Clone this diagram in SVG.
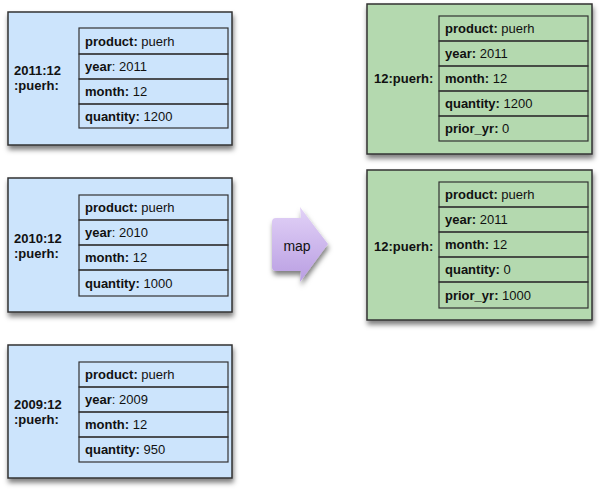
<svg xmlns="http://www.w3.org/2000/svg" width="600" height="491" viewBox="0 0 600 491">
<defs>
<filter id="sh" x="-10%" y="-10%" width="125%" height="130%">
<feDropShadow dx="1" dy="4" stdDeviation="2.5" flood-color="#000" flood-opacity="0.5"/>
</filter>
<linearGradient id="mapg" x1="0" y1="0" x2="0" y2="1">
<stop offset="0" stop-color="#e2d2f7"/>
<stop offset="1" stop-color="#b99ee2"/>
</linearGradient>
<style>
.blue{fill:#cce4fc;stroke:#333;stroke-width:1.5}
.green{fill:#b4d9af;stroke:#333;stroke-width:1.5}
.cell{fill:none;stroke:#333;stroke-width:1.2}
text{font-family:"Liberation Sans",Arial,sans-serif;font-size:13px;fill:#111}
.b{font-weight:bold}
.lbl{font-weight:bold}
</style>
</defs>

<g id="src-2011">
<rect class="blue" x="8" y="12" width="224" height="133" filter="url(#sh)"/>
<text class="lbl" x="14" y="75">2011:12</text>
<text class="lbl" x="14" y="89.5">:puerh:</text>
<rect class="cell" x="79" y="28" width="149" height="26"/>
<rect class="cell" x="79" y="54" width="149" height="25"/>
<rect class="cell" x="79" y="79" width="149" height="25"/>
<rect class="cell" x="79" y="104" width="149" height="24"/>
<text x="85" y="45.5"><tspan class="b">product:</tspan> puerh</text>
<text x="85" y="71"><tspan class="b">year</tspan>: 2011</text>
<text x="85" y="96"><tspan class="b">month:</tspan> 12</text>
<text x="85" y="121"><tspan class="b">quantity:</tspan> 1200</text>
</g>

<g id="src-2010">
<rect class="blue" x="8" y="178" width="224" height="134" filter="url(#sh)"/>
<text class="lbl" x="14" y="243">2010:12</text>
<text class="lbl" x="14" y="257.5">:puerh:</text>
<rect class="cell" x="79" y="195" width="149" height="25"/>
<rect class="cell" x="79" y="220" width="149" height="25"/>
<rect class="cell" x="79" y="245" width="149" height="25"/>
<rect class="cell" x="79" y="270" width="149" height="26"/>
<text x="85" y="212"><tspan class="b">product:</tspan> puerh</text>
<text x="85" y="237"><tspan class="b">year</tspan>: 2010</text>
<text x="85" y="262"><tspan class="b">month:</tspan> 12</text>
<text x="85" y="287.5"><tspan class="b">quantity:</tspan> 1000</text>
</g>

<g id="src-2009">
<rect class="blue" x="8" y="345" width="224" height="133" filter="url(#sh)"/>
<text class="lbl" x="14" y="409">2009:12</text>
<text class="lbl" x="14" y="423.5">:puerh:</text>
<rect class="cell" x="79" y="362" width="149" height="25"/>
<rect class="cell" x="79" y="387" width="149" height="25"/>
<rect class="cell" x="79" y="412" width="149" height="25"/>
<rect class="cell" x="79" y="437" width="149" height="25"/>
<text x="85" y="379"><tspan class="b">product:</tspan> puerh</text>
<text x="85" y="404"><tspan class="b">year</tspan>: 2009</text>
<text x="85" y="429"><tspan class="b">month:</tspan> 12</text>
<text x="85" y="454"><tspan class="b">quantity:</tspan> 950</text>
</g>

<g id="map">
<path d="M276 218 L301 218 L300 207 Q314 226 328 244 Q314 263 300 282 L301 271 L276 271 Q272 271 272 267 L272 222 Q272 218 276 218 Z" fill="url(#mapg)" filter="url(#sh)"/>
<text x="297" y="251" text-anchor="middle" style="font-size:14px">map</text>
</g>

<g id="out-1">
<rect class="green" x="367" y="4" width="225" height="150" filter="url(#sh)"/>
<text class="lbl" x="374" y="83">12:puerh:</text>
<rect class="cell" x="439" y="16" width="149" height="25"/>
<rect class="cell" x="439" y="41" width="149" height="25"/>
<rect class="cell" x="439" y="66" width="149" height="25"/>
<rect class="cell" x="439" y="91" width="149" height="25"/>
<rect class="cell" x="439" y="116" width="149" height="25"/>
<text x="445" y="33"><tspan class="b">product:</tspan> puerh</text>
<text x="445" y="58"><tspan class="b">year:</tspan> 2011</text>
<text x="445" y="83"><tspan class="b">month:</tspan> 12</text>
<text x="445" y="108"><tspan class="b">quantity:</tspan> 1200</text>
<text x="445" y="133"><tspan class="b">prior_yr:</tspan> 0</text>
</g>

<g id="out-2">
<rect class="green" x="367" y="170" width="225" height="150" filter="url(#sh)"/>
<text class="lbl" x="374" y="251">12:puerh:</text>
<rect class="cell" x="439" y="182" width="149" height="25"/>
<rect class="cell" x="439" y="207" width="149" height="25"/>
<rect class="cell" x="439" y="232" width="149" height="25"/>
<rect class="cell" x="439" y="257" width="149" height="25"/>
<rect class="cell" x="439" y="282" width="149" height="26"/>
<text x="445" y="199"><tspan class="b">product:</tspan> puerh</text>
<text x="445" y="224"><tspan class="b">year:</tspan> 2011</text>
<text x="445" y="249"><tspan class="b">month:</tspan> 12</text>
<text x="445" y="274"><tspan class="b">quantity:</tspan> 0</text>
<text x="445" y="299.5"><tspan class="b">prior_yr:</tspan> 1000</text>
</g>

<g id="connectors"></g>
</svg>
